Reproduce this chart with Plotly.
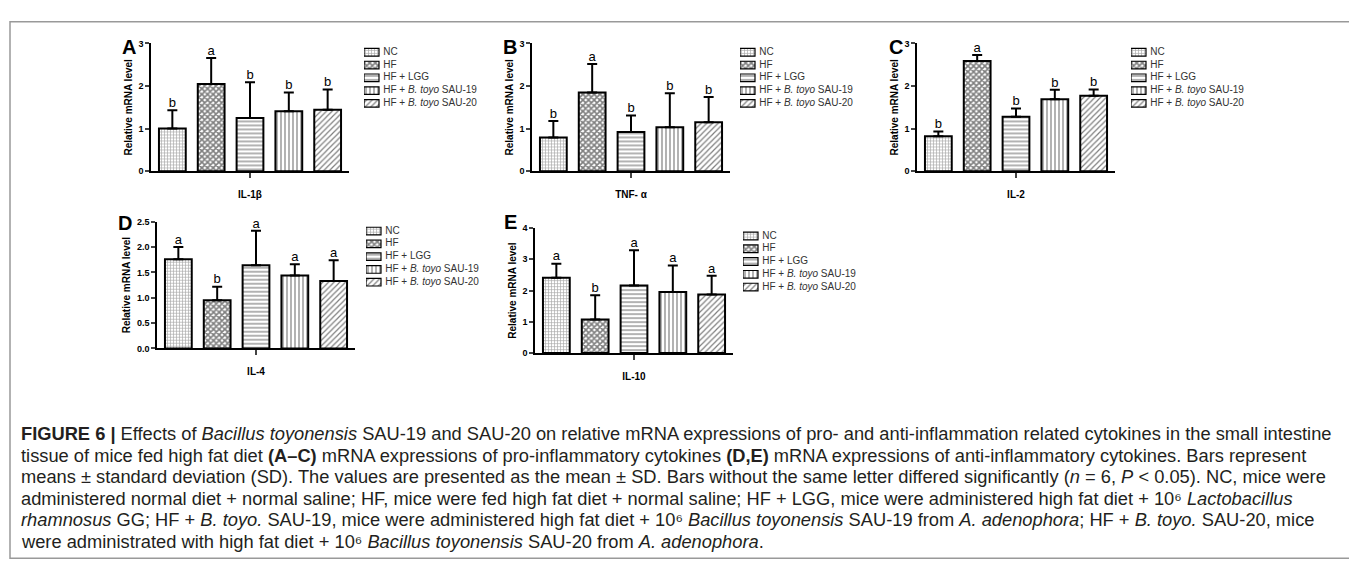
import plotly.graph_objects as go

# ---------------- data ----------------
groups = ["NC", "HF", "HF + LGG", "HF + <i>B. toyo</i> SAU-19", "HF + <i>B. toyo</i> SAU-20"]
cytokines = ["IL-1β", "TNF- α", "IL-2", "IL-4", "IL-10"]
panel_letters = ["A", "B", "C", "D", "E"]

il1b_mean = [1.00, 2.05, 1.25, 1.41, 1.44]
il1b_sd = [0.43, 0.61, 0.84, 0.44, 0.48]
il1b_sig = ["b", "a", "b", "b", "b"]

tnfa_mean = [0.79, 1.85, 0.92, 1.03, 1.15]
tnfa_sd = [0.39, 0.67, 0.39, 0.80, 0.59]
tnfa_sig = ["b", "a", "b", "b", "b"]

il2_mean = [0.82, 2.59, 1.28, 1.69, 1.77]
il2_sd = [0.11, 0.14, 0.19, 0.22, 0.15]
il2_sig = ["b", "a", "b", "b", "b"]

il4_mean = [1.76, 0.95, 1.64, 1.44, 1.33]
il4_sd = [0.24, 0.27, 0.68, 0.22, 0.41]
il4_sig = ["a", "b", "a", "a", "a"]

il10_mean = [2.41, 1.07, 2.16, 1.95, 1.87]
il10_sd = [0.45, 0.78, 1.13, 0.85, 0.60]
il10_sig = ["a", "b", "a", "a", "a"]

y_max = [3, 3, 3, 2.5, 4]
y_dtick = [1, 1, 1, 0.5, 1]
y_format = ["d", "d", "d", ".1f", "d"]

caption_lines = [
    "<b>FIGURE 6 |</b> Effects of <i>Bacillus toyonensis</i> SAU-19 and SAU-20 on relative mRNA expressions of pro- and anti-inflammation related cytokines in the small intestine",
    "tissue of mice fed high fat diet <b>(A–C)</b> mRNA expressions of pro-inflammatory cytokines <b>(D,E)</b> mRNA expressions of anti-inflammatory cytokines. Bars represent",
    "means ± standard deviation (SD). The values are presented as the mean ± SD. Bars without the same letter differed significantly (<i>n</i> = 6, <i>P</i> &lt; 0.05). NC, mice were",
    "administered normal diet + normal saline; HF, mice were fed high fat diet + normal saline; HF + LGG, mice were administered high fat diet + 10⁶ <i>Lactobacillus</i>",
    "<i>rhamnosus</i> GG; HF + <i>B. toyo.</i> SAU-19, mice were administered high fat diet + 10⁶ <i>Bacillus toyonensis</i> SAU-19 from <i>A. adenophora</i>; HF + <i>B. toyo.</i> SAU-20, mice",
    "were administrated with high fat diet + 10⁶ <i>Bacillus toyonensis</i> SAU-20 from <i>A. adenophora</i>.",
]

means = [il1b_mean, tnfa_mean, il2_mean, il4_mean, il10_mean]
sds = [il1b_sd, tnfa_sd, il2_sd, il4_sd, il10_sd]
sigs = [il1b_sig, tnfa_sig, il2_sig, il4_sig, il10_sig]

# ---------------- layout / styles ----------------
W, H = 1357, 567
FONT = "Liberation Sans, Arial, sans-serif"


def fx(x):
    return x / W


def fy(y):
    return 1 - y / H


patterns = [
    dict(shape="+", size=3, solidity=0.4, fgcolor="#555555", bgcolor="white"),
    dict(shape="x", size=4, solidity=0.65, fgcolor="black", bgcolor="white"),
    dict(shape="-", size=4, solidity=0.3, fgcolor="black", bgcolor="white"),
    dict(shape="|", size=4, solidity=0.3, fgcolor="black", bgcolor="white"),
    dict(shape="/", size=4, solidity=0.3, fgcolor="black", bgcolor="white"),
]

# pixel geometry per panel
geom = [
    dict(x0=143, top=31, bot=161, sw=(356, 40), lab=(121, 35)),
    dict(x0=524, top=31, bot=161, sw=(732, 40), lab=(502, 35)),
    dict(x0=909, top=31, bot=161, sw=(1123, 40), lab=(888, 35)),
    dict(x0=149, top=212.5, bot=341.5, sw=(358, 222), lab=(117, 214)),
    dict(x0=527, top=219, bot=346, sw=(735, 227), lab=(502, 213)),
]
AX_W = 198
XR = [-0.55, 4.55]
SW_W, ROW = 15, 13
SW_XMAX = 1.3  # legend axis range in swatch widths

fig = go.Figure()
layout = dict(
    width=W, height=H, autosize=False,
    margin=dict(l=0, r=0, t=0, b=0),
    paper_bgcolor="white", plot_bgcolor="rgba(0,0,0,0)",
    font=dict(family=FONT, color="black"),
    barmode="overlay", showlegend=False,
    annotations=[], shapes=[],
)

for i in range(5):
    g = geom[i]
    n1, n2 = 2 * i + 1, 2 * i + 2
    xa, ya = "x" + ("" if n1 == 1 else str(n1)), "y" + ("" if n1 == 1 else str(n1))
    lxa, lya = "x" + str(n2), "y" + str(n2)
    # --- bars with SD error bars ---
    for k in range(5):
        fig.add_trace(go.Bar(
            x=[k], y=[means[i][k]], width=0.69, name=groups[k],
            xaxis=xa, yaxis=ya,
            marker=dict(color="white", line=dict(color="black", width=2), pattern=patterns[k]),
            error_y=dict(type="data", array=[sds[i][k]], arrayminus=[0], symmetric=False,
                         color="black", thickness=2, width=5),
            hovertemplate="%{y}<extra>" + groups[k] + "</extra>",
        ))
    # --- significance letters ---
    fig.add_trace(go.Scatter(
        x=list(range(5)), y=[m + s for m, s in zip(means[i], sds[i])],
        mode="text", text=sigs[i], textposition="top center",
        textfont=dict(size=13, family=FONT, color="black"),
        xaxis=xa, yaxis=ya, hoverinfo="skip", cliponaxis=False,
    ))
    # --- legend swatches (own small axes) ---
    for k in range(5):
        fig.add_trace(go.Bar(
            y=[k], x=[1], orientation="h", width=0.6, xaxis=lxa, yaxis=lya,
            marker=dict(color="white", line=dict(color="black", width=1.2), pattern=patterns[k]),
            hoverinfo="skip",
        ))
    fig.add_trace(go.Scatter(
        x=[1.28] * 5, y=list(range(5)), mode="text", text=groups, textposition="middle right",
        textfont=dict(size=10, family=FONT, color="#333333"),
        xaxis=lxa, yaxis=lya, hoverinfo="skip", cliponaxis=False,
    ))

    layout[xa.replace("x", "xaxis")] = dict(
        domain=[fx(g["x0"]), fx(g["x0"] + AX_W)], anchor=ya, range=XR,
        showline=True, linecolor="black", linewidth=1.5, showgrid=False, zeroline=False,
        tickvals=[2], showticklabels=False, ticks="outside", ticklen=5, tickwidth=1.5,
        title=dict(text=cytokines[i], font=dict(size=10, family=FONT, weight="bold"), standoff=14),
        fixedrange=True,
    )
    layout[ya.replace("y", "yaxis")] = dict(
        domain=[fy(g["bot"]), fy(g["top"])], anchor=xa, range=[0, y_max[i]],
        showline=True, linecolor="black", linewidth=1.5, showgrid=False, zeroline=False,
        dtick=y_dtick[i], tick0=0, tickformat=y_format[i], ticks="outside", ticklen=4, tickwidth=1.5,
        tickfont=dict(size=9, family=FONT, weight="bold"),
        title=dict(text="Relative mRNA level", font=dict(size=10, family=FONT, weight="bold"), standoff=4),
        fixedrange=True,
    )
    sx, sy = g["sw"]
    layout[lxa.replace("x", "xaxis")] = dict(
        domain=[fx(sx), fx(sx + SW_W * SW_XMAX)], anchor=lya, range=[0, SW_XMAX],
        visible=False, fixedrange=True,
    )
    layout[lya.replace("y", "yaxis")] = dict(
        domain=[fy(sy - ROW / 2 + 5 * ROW), fy(sy - ROW / 2)], anchor=lxa,
        range=[4.5, -0.5], visible=False, fixedrange=True,
    )
    layout["annotations"].append(dict(
        text="<b>" + panel_letters[i] + "</b>", x=fx(g["lab"][0]), y=fy(g["lab"][1]),
        xref="paper", yref="paper", showarrow=False, xanchor="center", yanchor="middle",
        font=dict(size=20, family=FONT, color="black"),
    ))

cap_y0, cap_dy = 428, 22
for j, line in enumerate(caption_lines):
    layout["annotations"].append(dict(
        text=line, x=fx(11), y=fy(cap_y0 + j * cap_dy), xref="paper", yref="paper",
        showarrow=False, xanchor="left", yanchor="middle", align="left",
        font=dict(size=18.3, family=FONT, color="#231f20"),
    ))

layout["shapes"].append(dict(
    type="rect", xref="paper", yref="paper", x0=fx(2), x1=fx(1354), y0=fy(555), y1=fy(9),
    line=dict(color="#999999", width=1.5), fillcolor="rgba(0,0,0,0)", layer="above",
))

fig.update_layout(**layout)
fig.write_html("out.html")
